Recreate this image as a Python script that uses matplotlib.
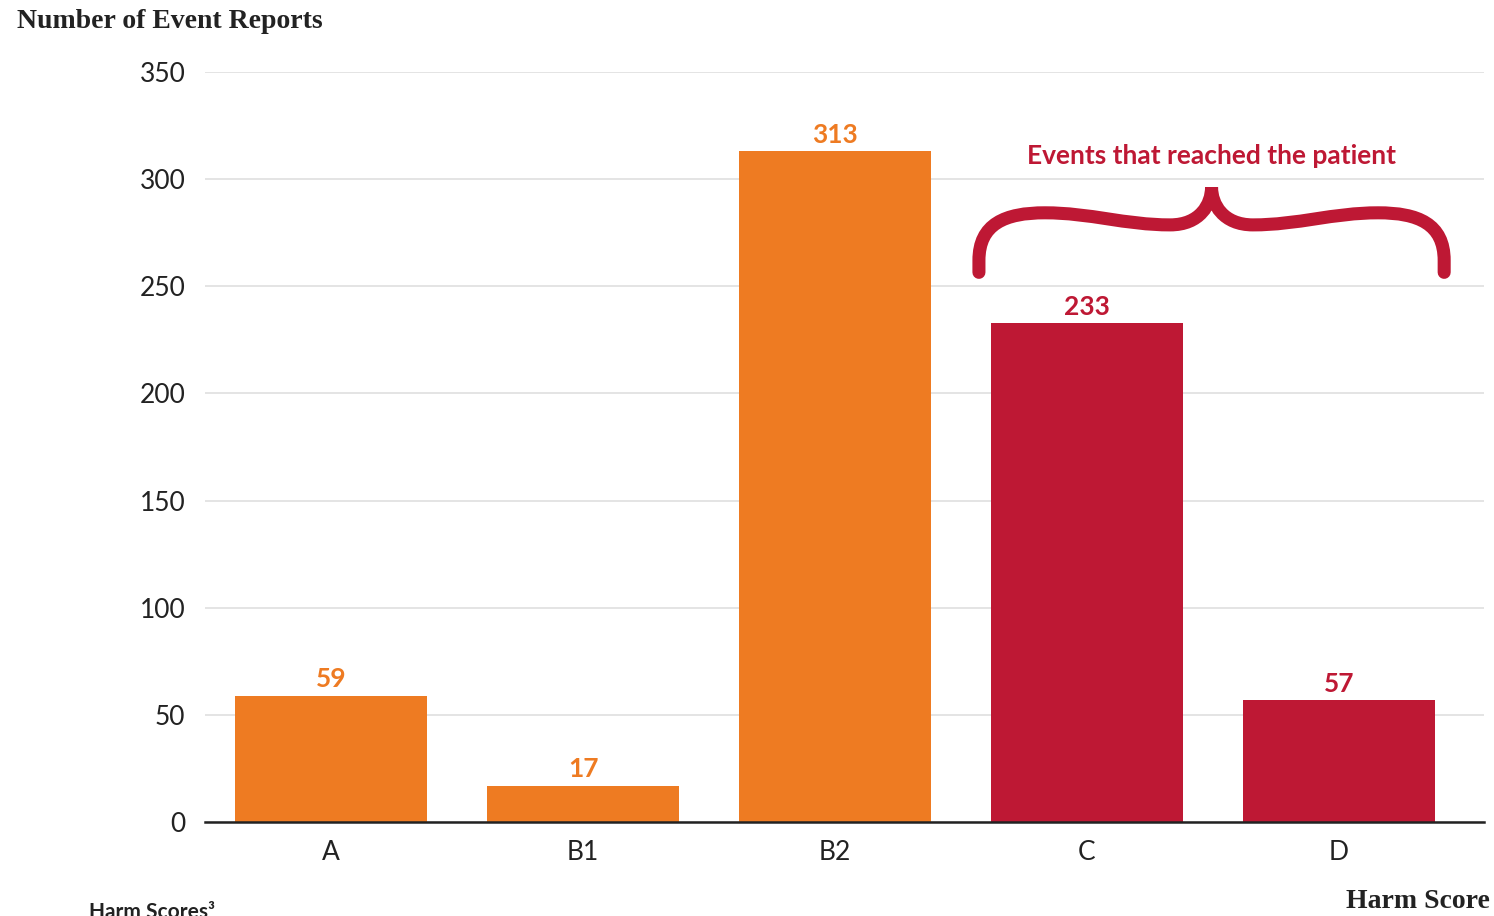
import numpy as np
import matplotlib.pyplot as plt
from matplotlib.path import Path
from matplotlib.patches import PathPatch

categories = ['A', 'B1', 'B2', 'C', 'D']
reports = [59, 17, 313, 233, 57]
reached_patient = [False, False, False, True, True]

orange = '#EE7B22'
crimson = '#BE1834'

plt.rcParams['font.family'] = ['Lato', 'DejaVu Sans']

fig = plt.figure(figsize=(14.94, 9.16), dpi=100)
ax = fig.add_axes([0.1372, 0.1026, 0.8561, 0.8188])

x = np.arange(len(categories))
colors = [crimson if r else orange for r in reached_patient]
bars = ax.bar(x, reports, width=0.762, color=colors, zorder=3)

for xi, v, c in zip(x, reports, colors):
    ax.annotate(str(v), (xi, v), xytext=(0, 3), textcoords='offset points',
                ha='center', va='bottom', fontsize=19, fontweight='bold', color=c)

ax.set_xlim(-0.5, 4.575)
ax.set_ylim(0, 350)
ax.set_yticks(np.arange(0, 351, 50))
ax.set_xticks(x)
ax.set_xticklabels(categories)
ax.tick_params(axis='both', length=0, labelsize=19, colors='#222222')
ax.tick_params(axis='y', pad=14)
ax.tick_params(axis='x', pad=13)
ax.grid(axis='y', color='#dddddd', linewidth=1.1, zorder=0)
for s in ['top', 'right', 'left']:
    ax.spines[s].set_visible(False)
ax.spines['bottom'].set_color('#222222')
ax.spines['bottom'].set_linewidth(1.8)
ax.spines['bottom'].set_zorder(4)

# curly brace over the bars that reached the patient
def brace(ax, x0, x1, y0, y1, **kw):
    left = [(0, 0), (0, 0.14),
            (0, 0.57), (0.056, 0.70), (0.142, 0.70),
            (0.239, 0.70), (0.314, 0.558), (0.411, 0.558),
            (0.475, 0.558), (0.5, 0.80), (0.5, 1.0)]
    right = [(1 - u, v) for u, v in reversed(left)][1:]
    pts = left + right
    codes = [Path.MOVETO, Path.LINETO] + [Path.CURVE4] * 9
    codes += [Path.CURVE4] * 9 + [Path.LINETO]
    verts = [(x0 + u * (x1 - x0), y0 + v * (y1 - y0)) for u, v in pts]
    ax.add_patch(PathPatch(Path(verts, codes), fill=False, **kw))

brace(ax, 2.571, 4.417, 256.5, 296.2, edgecolor=crimson, linewidth=9.4,
      capstyle='round', joinstyle='miter', zorder=5)
ax.text((2.571 + 4.417) / 2, 310.8, 'Events that reached the patient',
        ha='center', va='center', fontsize=19, fontweight='bold', color=crimson)

serif = ['Liberation Serif']
fig.text(17 / 1494, 1 - 22 / 916, 'Number of Event Reports', ha='left', va='center',
         fontsize=20, fontweight='bold', family=serif, color='#222222')
fig.text(1490 / 1494, 1 - 901 / 916, 'Harm Score', ha='right', va='center',
         fontsize=20, fontweight='bold', family=serif, color='#222222')
fig.text(89 / 1494, 1 - 902 / 916, 'Harm Scores³', ha='left', va='top',
         fontsize=15, fontweight='bold', color='#222222')

fig.savefig('out.png', dpi=100)
